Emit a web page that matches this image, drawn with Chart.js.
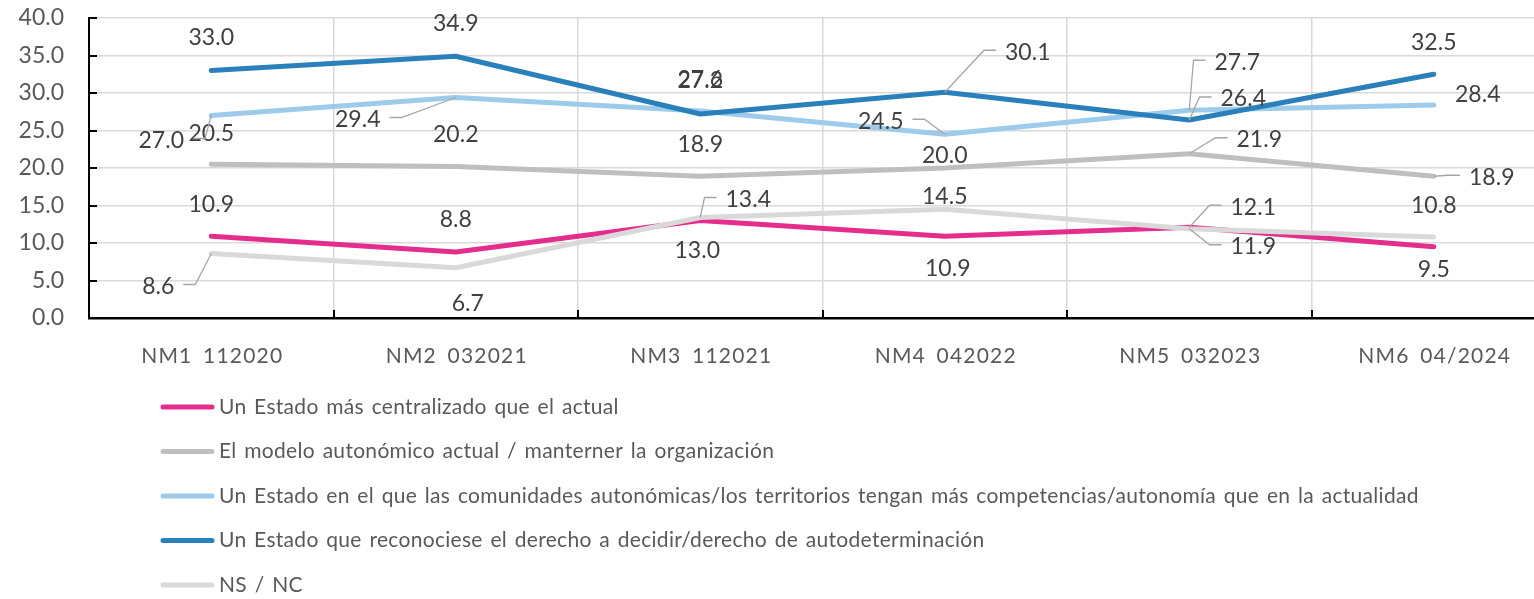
<!DOCTYPE html>
<html>
<head>
<meta charset="utf-8">
<script src="https://cdn.jsdelivr.net/npm/chart.js@4.4.1/dist/chart.umd.min.js"></script>
<style>
  html, body { margin: 0; padding: 0; background: #fff; overflow: hidden; }
</style>
</head>
<body>
<canvas id="c" width="1560" height="599"></canvas>
<script>
/* ── DATA ─────────────────────────────────────────────────────────────── */
const CATEGORIES = ["NM1 112020", "NM2 032021", "NM3 112021", "NM4 042022", "NM5 032023", "NM6 04/2024"];

const SERIES_NAMES = [
  "Un Estado más centralizado que el actual",
  "El modelo autonómico actual / manterner la organización",
  "Un Estado en el que las comunidades autonómicas/los territorios tengan más competencias/autonomía que en la actualidad",
  "Un Estado que reconociese el derecho a decidir/derecho de autodeterminación",
  "NS / NC",
];

const CENTRALIZADO   = [10.9, 8.8, 13.0, 10.9, 12.1, 9.5];
const AUTONOMICO     = [20.5, 20.2, 18.9, 20.0, 21.9, 18.9];
const MAS_COMPETENC  = [27.0, 29.4, 27.6, 24.5, 27.7, 28.4];
const AUTODETERMIN   = [33.0, 34.9, 27.2, 30.1, 26.4, 32.5];
const NSNC           = [8.6, 6.7, 13.4, 14.5, 11.9, 10.8];

const Y_TICKS = [0, 5, 10, 15, 20, 25, 30, 35, 40];

/* ── STYLE ────────────────────────────────────────────────────────────── */
const FONT = "Lato";
const COLORS = ["#e52d8e", "#bfbfbf", "#9dcbeb", "#2a80bb", "#d9d9d9"];

/* label offsets from each point [dx, dy, leader line?] */
const LABEL_POS = [
  [[0, -32, 0], [0, -32, 0], [-3, 30, 0], [3, 32, 0], [64, -20, 1], [0, 23, 0]],
  [[0, -31, 0], [0, -32, 0], [0, -32, 0], [0, -12, 0], [70, -14, 1], [58, 1, 1]],
  [[-50, 25, 1], [-98, 22, 1], [0, -31, 0], [-64, -13, 1], [48, -48, 1], [44, -10, 0]],
  [[0, -33, 0], [0, -33, 0], [0, -33, 0], [83, -40, 1], [54, -21, 1], [0, -32, 0]],
  [[-53, 33, 1], [12, 36, 0], [48, -18, 1], [0, -13, 0], [64, 18, 1], [0, -31, 0]],
];

/* ── PLUGINS ──────────────────────────────────────────────────────────── */
const innerTicks = {
  id: "innerTicks",
  afterDatasetsDraw(chart) {
    const { ctx, chartArea: { left, bottom }, scales: { x, y } } = chart;
    ctx.save();
    ctx.strokeStyle = "#000";
    ctx.lineWidth = 2;
    ctx.beginPath();
    Y_TICKS.forEach(v => {
      const py = Math.round(y.getPixelForValue(v));
      ctx.moveTo(left, py);
      ctx.lineTo(left + 8, py);
    });
    for (let i = 1; i < CATEGORIES.length; i++) {
      const px = Math.round((x.getPixelForValue(i - 1) + x.getPixelForValue(i)) / 2);
      ctx.moveTo(px, bottom);
      ctx.lineTo(px, bottom - 8);
    }
    ctx.stroke();
    ctx.restore();
  },
};

// category labels drawn here so they can get Calibri-like spacing
const categoryLabels = {
  id: "categoryLabels",
  afterDraw(chart) {
    const { ctx, chartArea: { bottom }, scales: { x } } = chart;
    ctx.save();
    ctx.font = `21px ${FONT}`;
    ctx.letterSpacing = "1.2px";
    ctx.wordSpacing = "4px";
    ctx.textAlign = "center";
    ctx.textBaseline = "middle";
    ctx.fillStyle = "#595959";
    CATEGORIES.forEach((c, i) => ctx.fillText(c, x.getPixelForValue(i) + 1, bottom + 38));
    ctx.restore();
  },
};

const valueLabels = {
  id: "valueLabels",
  afterDatasetsDraw(chart) {
    const ctx = chart.ctx;
    ctx.save();
    ctx.font = `23px ${FONT}`;
    ctx.textAlign = "center";
    ctx.textBaseline = "middle";
    chart.data.datasets.forEach((ds, i) => {
      chart.getDatasetMeta(i).data.forEach((pt, j) => {
        const [dx, dy, leader] = LABEL_POS[i][j];
        const lx = pt.x + dx, ly = pt.y + dy;
        const txt = ds.data[j].toFixed(1);
        if (leader) {
          const w = ctx.measureText(txt).width;
          const side = dx > 0 ? 1 : -1;
          const edge = lx - side * (w / 2 + 9);
          const elbow = edge - side * 12;
          ctx.strokeStyle = "#a6a6a6";
          ctx.lineWidth = 1.3;
          ctx.beginPath();
          ctx.moveTo(pt.x, pt.y);
          ctx.lineTo(elbow, ly - 2);
          ctx.lineTo(edge, ly - 2);
          ctx.stroke();
        }
        ctx.fillStyle = "#404040";
        ctx.fillText(txt, lx, ly);
      });
    });
    ctx.restore();
  },
};

const sideLegend = {
  id: "sideLegend",
  afterDraw(chart) {
    const ctx = chart.ctx;
    ctx.save();
    ctx.font = `21px ${FONT}`;
    ctx.letterSpacing = "0.3px";
    ctx.wordSpacing = "2px";
    ctx.textBaseline = "middle";
    ctx.lineCap = "round";
    chart.data.datasets.forEach((ds, i) => {
      const y = 407 + i * 44.5;
      ctx.strokeStyle = ds.borderColor;
      ctx.lineWidth = 5;
      ctx.beginPath();
      ctx.moveTo(163, y);
      ctx.lineTo(212, y);
      ctx.stroke();
      ctx.fillStyle = "#595959";
      ctx.fillText(ds.label, 219, y);
    });
    ctx.restore();
  },
};

/* ── CHART ────────────────────────────────────────────────────────────── */
const seriesValues = [CENTRALIZADO, AUTONOMICO, MAS_COMPETENC, AUTODETERMIN, NSNC];

new Chart(document.getElementById("c"), {
  type: "line",
  data: {
    labels: CATEGORIES,
    datasets: seriesValues.map((vals, i) => ({
      label: SERIES_NAMES[i],
      data: vals,
      borderColor: COLORS[i],
      backgroundColor: COLORS[i],
      borderWidth: 5,
      borderCapStyle: "round",
      borderJoinStyle: "round",
      pointRadius: 0,
      tension: 0,
      order: 5 - i,
    })),
  },
  options: {
    responsive: false,
    animation: false,
    layout: { padding: { top: 18, right: 4, bottom: 221, left: 0 } },
    plugins: { legend: { display: false }, tooltip: { enabled: false } },
    scales: {
      x: {
        offset: true,
        grid: { offset: true, color: "#d9d9d9", lineWidth: 1.5, drawTicks: false },
        border: { color: "#000", width: 2.5 },
        ticks: { display: false },
        afterFit(s) { s.height = 60; s.paddingLeft = 0; s.paddingRight = 0; },
      },
      y: {
        min: 0,
        max: 40,
        grid: { color: "#d9d9d9", lineWidth: 1.5, drawTicks: false },
        border: { color: "#000", width: 2 },
        ticks: {
          stepSize: 5,
          color: "#595959",
          font: { family: FONT, size: 23 },
          padding: 25,
          callback: v => v.toFixed(1),
        },
        afterFit(s) { s.width = 89; s.paddingTop = 0; s.paddingBottom = 0; },
      },
    },
  },
  plugins: [innerTicks, valueLabels, categoryLabels, sideLegend],
});
</script>
</body>
</html>
